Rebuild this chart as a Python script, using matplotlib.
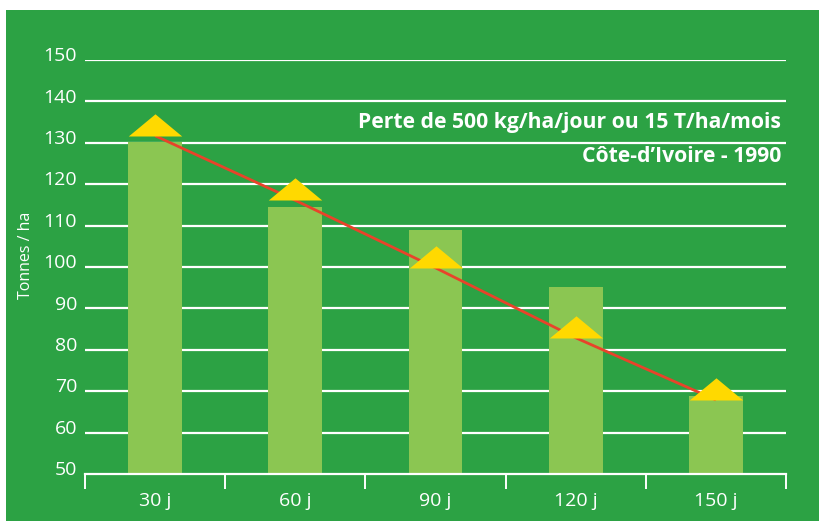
import matplotlib
matplotlib.use("Agg")
import matplotlib.pyplot as plt
from matplotlib.patches import Rectangle
from matplotlib.path import Path
import numpy as np

categories = ["30 j", "60 j", "90 j", "120 j", "150 j"]
bar_values = [130.2, 114.6, 108.9, 95.1, 68.8]
line_values = [131.7, 116.1, 99.8, 82.9, 67.9]
y_ticks = [50, 60, 70, 80, 90, 100, 110, 120, 130, 140, 150]
note1 = "Perte de 500 kg/ha/jour ou 15 T/ha/mois"
note2 = "Côte-d’Ivoire - 1990"
y_label = "Tonnes / ha"

GREEN = "#2ca244"
BAR = "#8bc652"
YELLOW = "#ffd900"
RED = "#e8432a"
FONT = ["Open Sans", "DejaVu Sans"]

W, H = 819, 521
fig = plt.figure(figsize=(W / 100, H / 100), dpi=100, facecolor="white")
bg = fig.add_axes([6 / W, 0, 1 - 6 / W, 1 - 10 / H], zorder=0)
bg.axis("off")
bg.add_patch(Rectangle((0, 0), 1, 1, transform=bg.transAxes, facecolor=GREEN, edgecolor="none"))

x0, x1 = 85, 786
yb, yt = 474, 60
ax = fig.add_axes([x0 / W, (H - yb) / H, (x1 - x0) / W, (yb - yt) / H], zorder=2)
ax.set_facecolor("none")
ax.set_xlim(-0.5, len(categories) - 0.5)
ax.set_ylim(50, 150)
for s in ax.spines.values():
    s.set_visible(False)
ax.set_xticks([])
ax.set_yticks([])

x = np.arange(len(categories))
lab_x = -8 / (x1 - x0)

# gridlines and y labels
for v in y_ticks:
    if v > 50:
        ax.axhline(v, color="white", lw=1.6, zorder=1)
    ax.text(lab_x, v - 0.3, str(v), transform=ax.get_yaxis_transform(), ha="right", va="baseline",
            color="white", fontsize=14, family=FONT)

# bars
ax.bar(x, bar_values, width=0.385, color=BAR, zorder=2)
ax.set_ylim(50, 150)

# base axis and downward tick marks
ax.axhline(50, color="white", lw=1.6, zorder=3, clip_on=False)
down = Path([(0, 0), (0, -1)], [Path.MOVETO, Path.LINETO])
ax.plot(np.arange(len(categories) + 1) - 0.5, [50] * (len(categories) + 1), linestyle="none",
        marker=down, markersize=21, color="white", mew=1.4, clip_on=False, zorder=3)

# red line
ax.plot(x, line_values, color=RED, lw=2.0, zorder=4, solid_capstyle="butt")

# triangles with base at the data point
tri = Path([(-1, 0), (1, 0), (0, 0.83), (-1, 0)],
           [Path.MOVETO, Path.LINETO, Path.LINETO, Path.CLOSEPOLY])
ax.plot(x, line_values, linestyle="none", marker=tri, markersize=38.5,
        color=YELLOW, mec=YELLOW, mew=0, zorder=5, clip_on=False)

# category labels
for xi, c in zip(x, categories):
    ax.text(xi, -0.065, c, transform=ax.get_xaxis_transform(), ha="center", va="center",
            color="white", fontsize=14, family=FONT)

ax.text(-59 / (x1 - x0), (yb - 255) / (yb - yt), y_label, transform=ax.transAxes, rotation=90,
        ha="center", va="center", color="white", fontsize=11.5, family=FONT)

ax.text((781 - x0) / (x1 - x0), 135.0, note1, ha="right", va="center", color="white",
        fontsize=15.2, family=FONT, fontweight="bold", transform=ax.get_yaxis_transform())
ax.text((781 - x0) / (x1 - x0), 126.8, note2, ha="right", va="center", color="white",
        fontsize=15.2, family=FONT, fontweight="bold", transform=ax.get_yaxis_transform())

fig.savefig("out.png", dpi=100, facecolor="white")
